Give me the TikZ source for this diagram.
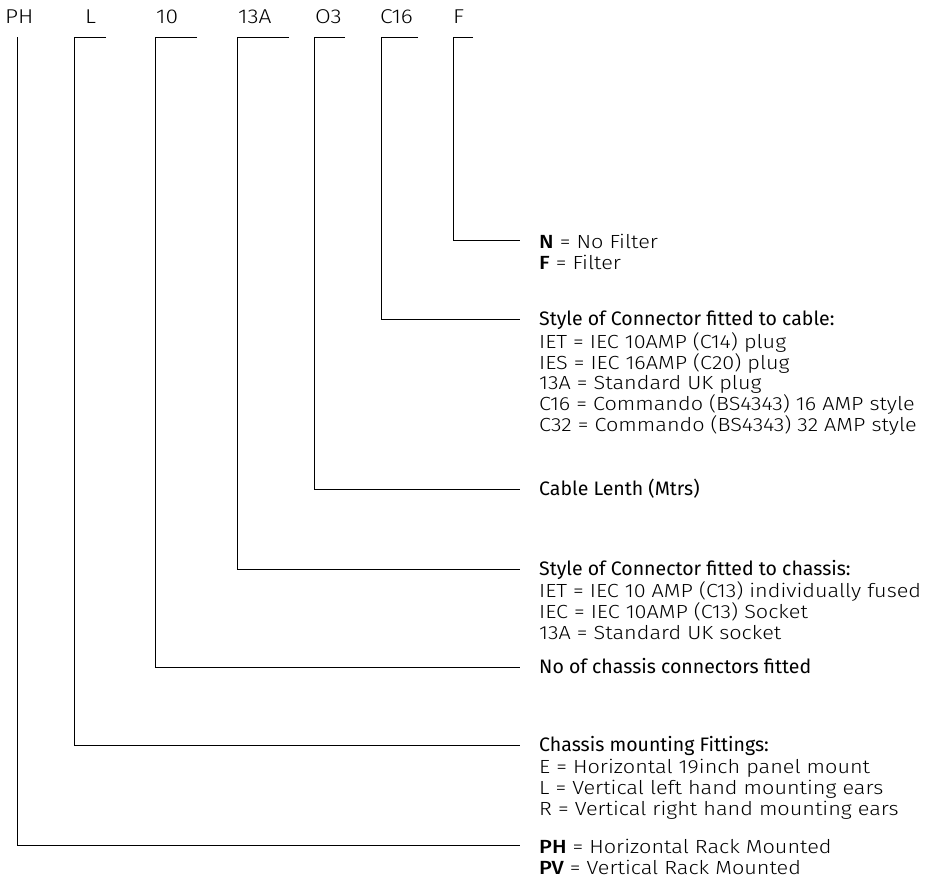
\documentclass[tikz,border=0pt]{standalone}
\usepackage{fontspec}
\setmainfont{Fira Sans}[UprightFont=* Light, BoldFont=* Medium, FakeStretch=1.14]
\newfontfamily\headfont{Fira Sans}
\usepackage{tikz}
\usetikzlibrary{positioning}
\usetikzlibrary{calc}

\begin{document}
\begin{tikzpicture}[
  x=1pt, y=-1pt,
  lead/.style={
    draw=black, line width=1pt
  },
  code/.style={
    anchor=base west, inner sep=0pt, yshift=-6.9pt,
    font=\fontsize{20}{24}\selectfont
  },
  head/.style={
    anchor=base west, inner sep=0pt, yshift=-6.7pt,
    font=\headfont\fontsize{19.5}{23}\selectfont
  },
  item/.style={
    anchor=base west, inner sep=0pt, yshift=-6.5pt,
    font=\fontsize{19}{23}\selectfont
  },
]

  \def\textx{539}%
  \def\linex{520}%
  \def\ticky{37}%
  \def\gap{20.7}%

  \useasboundingbox (0,0) rectangle (933,884);

    % Part code
    \node[code] (cPH) at (5,17) {PH};
    \node[code] (cL) at (85,17) {L};
    \node[code] (cT) at (156,17) {10};
    \node[code] (cS) at (238,17) {13A};
    \node[code] (cO) at (315,17) {O3};
    \node[code] (cC) at (380,17) {C16};
    \node[code] (cF) at (453,17) {F};

    % Leader lines
    \coordinate (kP) at (17,\ticky);
    \coordinate (eP) at (\linex,845);
    \draw[lead] (kP) |- (eP);
    \foreach \n/\vx/\tx/\ly in {L/74/106/745, T/155/197/667, S/237/289/569,
                                O/314/345/489, C/381/418/319, F/453/473/240} {
        \coordinate (k\n) at (\vx,\ticky);
        \coordinate (t\n) at (\tx,\ticky);
        \coordinate (e\n) at (\linex,\ly);
        \draw[lead] (t\n) -- (k\n) |- (e\n);
    }

    % Filter
    \node[item] (dF1) at (\textx,242) {\textbf{N} = No Filter};
    \node[item] (dF2) at (\textx,262.5) {\textbf{F} = Filter};

    % Cable connector
    \node[head] (dC0) at (\textx,319) {Style of Connector fitted to cable:};
    \foreach \t [count=\i] in {IET = IEC 10AMP (C14) plug, IES = IEC 16AMP (C20) plug,
        13A = Standard UK plug, C16 = Commando (BS4343) 16 AMP style,
        C32 = Commando (BS4343) 32 AMP style} {
        \node[item] (dC\i) at (\textx,319+2.3+\gap*\i) {\t};
    }

    % Length
    \node[head] (dO0) at (\textx,489) {Cable Lenth (Mtrs)};

    % Chassis connector
    \node[head] (dS0) at (\textx,569) {Style of Connector fitted to chassis:};
    \foreach \t [count=\i] in {IET = IEC 10 AMP (C13) individually fused,
        IEC = IEC 10AMP (C13) Socket, 13A = Standard UK socket} {
        \node[item] (dS\i) at (\textx,569+1.5+\gap*\i) {\t};
    }

    % Number
    \node[head] (dT0) at (\textx,667) {No of chassis connectors fitted};

    % Mounting
    \node[head] (dL0) at (\textx,745) {Chassis mounting Fittings:};
    \foreach \t [count=\i] in {E = Horizontal 19inch panel mount,
        L = Vertical left hand mounting ears, R = Vertical right hand mounting ears} {
        \node[item] (dL\i) at (\textx,745+1.5+\gap*\i) {\t};
    }

    % Rack
    \node[item] (dP1) at (\textx,847) {\textbf{PH} = Horizontal Rack Mounted};
    \node[item] (dP2) at (\textx,867.5) {\textbf{PV} = Vertical Rack Mounted};

\end{tikzpicture}
\end{document}
